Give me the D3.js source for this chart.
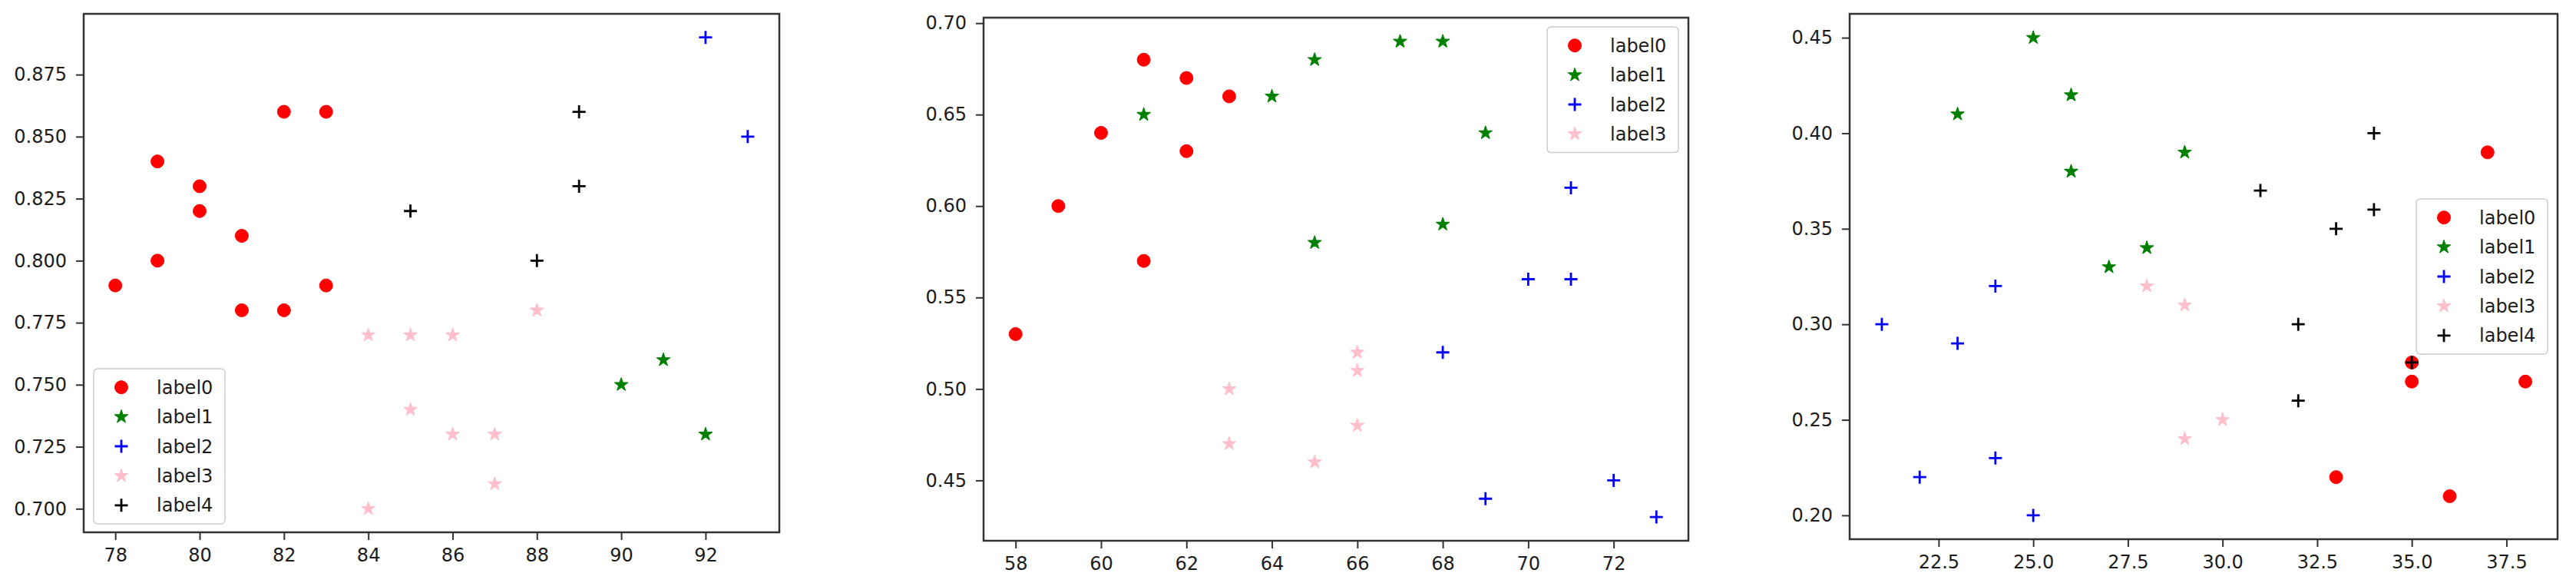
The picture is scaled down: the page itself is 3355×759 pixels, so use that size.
<!DOCTYPE html>
<html><head><meta charset="utf-8">
<script src="https://cdn.jsdelivr.net/npm/d3@7"></script>
<style>html,body{margin:0;padding:0;background:#fff;} svg{display:block;}</style>
</head><body>
<svg id="chart" width="3355" height="759"></svg>
<script>
// ---------- DATA ----------
const seriesNames = ["label0", "label1", "label2", "label3", "label4"];
const seriesColors = ["red", "green", "blue", "pink", "black"];
const seriesMarkers = ["circle", "star", "plus", "star", "plus"];

// Panel 1
const p1_label0_x = [78, 79, 79, 80, 80, 81, 81, 82, 82, 83, 83];
const p1_label0_y = [0.79, 0.80, 0.84, 0.83, 0.82, 0.81, 0.78, 0.86, 0.78, 0.86, 0.79];
const p1_label1_x = [90, 91, 92];
const p1_label1_y = [0.75, 0.76, 0.73];
const p1_label2_x = [92, 93];
const p1_label2_y = [0.89, 0.85];
const p1_label3_x = [84, 85, 86, 88, 85, 86, 87, 87, 84];
const p1_label3_y = [0.77, 0.77, 0.77, 0.78, 0.74, 0.73, 0.73, 0.71, 0.70];
const p1_label4_x = [85, 88, 89, 89];
const p1_label4_y = [0.82, 0.80, 0.86, 0.83];
const p1_xTicks = [78, 80, 82, 84, 86, 88, 90, 92];
const p1_yTicks = [0.700, 0.725, 0.750, 0.775, 0.800, 0.825, 0.850, 0.875];

// Panel 2
const p2_label0_x = [58, 59, 60, 61, 61, 62, 62, 63];
const p2_label0_y = [0.53, 0.60, 0.64, 0.68, 0.57, 0.67, 0.63, 0.66];
const p2_label1_x = [61, 64, 65, 65, 67, 68, 68, 69];
const p2_label1_y = [0.65, 0.66, 0.68, 0.58, 0.69, 0.69, 0.59, 0.64];
const p2_label2_x = [68, 69, 70, 71, 71, 72, 73];
const p2_label2_y = [0.52, 0.44, 0.56, 0.61, 0.56, 0.45, 0.43];
const p2_label3_x = [63, 63, 65, 66, 66, 66];
const p2_label3_y = [0.50, 0.47, 0.46, 0.52, 0.51, 0.48];
const p2_xTicks = [58, 60, 62, 64, 66, 68, 70, 72];
const p2_yTicks = [0.45, 0.50, 0.55, 0.60, 0.65, 0.70];

// Panel 3
const p3_label0_x = [33, 35, 35, 36, 37, 38];
const p3_label0_y = [0.22, 0.28, 0.27, 0.21, 0.39, 0.27];
const p3_label1_x = [23, 25, 26, 26, 27, 28, 29];
const p3_label1_y = [0.41, 0.45, 0.42, 0.38, 0.33, 0.34, 0.39];
const p3_label2_x = [21, 22, 23, 24, 24, 25];
const p3_label2_y = [0.30, 0.22, 0.29, 0.32, 0.23, 0.20];
const p3_label3_x = [28, 29, 29, 30];
const p3_label3_y = [0.32, 0.31, 0.24, 0.25];
const p3_label4_x = [31, 32, 32, 33, 34, 34, 35];
const p3_label4_y = [0.37, 0.30, 0.26, 0.35, 0.40, 0.36, 0.28];
const p3_xTicks = [22.5, 25.0, 27.5, 30.0, 32.5, 35.0, 37.5];
const p3_yTicks = [0.20, 0.25, 0.30, 0.35, 0.40, 0.45];

// ---------- BUILD ----------
function mk(xs, ys) { return xs.map((x, i) => ({x: x, y: ys[i]})); }

const panels = [
  { series: [mk(p1_label0_x, p1_label0_y), mk(p1_label1_x, p1_label1_y), mk(p1_label2_x, p1_label2_y), mk(p1_label3_x, p1_label3_y), mk(p1_label4_x, p1_label4_y)],
    xTicks: p1_xTicks, yTicks: p1_yTicks, xFmt: d3.format("d"), yFmt: d3.format(".3f"),
    box: {left: 109, right: 1015, top: 18, bottom: 693}, legendLoc: "lower left" },
  { series: [mk(p2_label0_x, p2_label0_y), mk(p2_label1_x, p2_label1_y), mk(p2_label2_x, p2_label2_y), mk(p2_label3_x, p2_label3_y)],
    xTicks: p2_xTicks, yTicks: p2_yTicks, xFmt: d3.format("d"), yFmt: d3.format(".2f"),
    box: {left: 1281, right: 2199, top: 23, bottom: 704}, legendLoc: "upper right" },
  { series: [mk(p3_label0_x, p3_label0_y), mk(p3_label1_x, p3_label1_y), mk(p3_label2_x, p3_label2_y), mk(p3_label3_x, p3_label3_y), mk(p3_label4_x, p3_label4_y)],
    xTicks: p3_xTicks, yTicks: p3_yTicks, xFmt: d3.format(".1f"), yFmt: d3.format(".2f"),
    box: {left: 2409, right: 3331, top: 18, bottom: 702}, legendLoc: "center right" }
];

const FONT = "'DejaVu Sans', sans-serif";
const FS = 24;
const R = 8.5;
const TEXT = "#1c1c1c";
const svg = d3.select("#chart");

function starPath(r) {
  const inner = r * 0.381966;
  const pts = [];
  for (let i = 0; i < 10; i++) {
    const rad = i % 2 === 0 ? r : inner;
    const a = -Math.PI / 2 + i * Math.PI / 5;
    pts.push([rad * Math.cos(a), rad * Math.sin(a)]);
  }
  return "M" + pts.map(p => p[0].toFixed(2) + "," + p[1].toFixed(2)).join("L") + "Z";
}
function drawMarker(sel, type, color) {
  if (type === "circle") {
    sel.append("circle").attr("r", R).attr("fill", color).attr("stroke", color).attr("stroke-width", 1);
  } else if (type === "star") {
    sel.append("path").attr("d", starPath(R + 0.5)).attr("fill", color).attr("stroke", color).attr("stroke-width", 1.2).attr("stroke-linejoin", "round");
  } else {
    sel.append("path").attr("d", `M${-R},0H${R}M0,${-R}V${R}`).attr("fill", "none").attr("stroke", color).attr("stroke-width", 2.8);
  }
}

function padDomain(vals) {
  const [a, b] = d3.extent(vals);
  const m = (b - a) * 0.05;
  return [a - m, b + m];
}

panels.forEach(p => {
  const all = p.series.flat();
  const x = d3.scaleLinear().domain(padDomain(all.map(d => d.x))).range([p.box.left, p.box.right]);
  const y = d3.scaleLinear().domain(padDomain(all.map(d => d.y))).range([p.box.bottom, p.box.top]);
  const g = svg.append("g");

  // points
  p.series.forEach((s, si) => {
    g.append("g").selectAll("g").data(s).enter().append("g")
      .attr("transform", d => `translate(${x(d.x)},${y(d.y)})`)
      .each(function() { drawMarker(d3.select(this), seriesMarkers[si], seriesColors[si]); });
  });

  // axes
  const xa = g.append("g").attr("transform", `translate(0,${p.box.bottom})`)
    .call(d3.axisBottom(x).tickValues(p.xTicks).tickFormat(p.xFmt).tickSize(10).tickPadding(11));
  const ya = g.append("g").attr("transform", `translate(${p.box.left},0)`)
    .call(d3.axisLeft(y).tickValues(p.yTicks).tickFormat(p.yFmt).tickSize(10).tickPadding(12));
  [xa, ya].forEach(a => {
    a.select(".domain").remove();
    a.selectAll(".tick line").attr("stroke", "#333").attr("stroke-width", 2);
    a.selectAll(".tick text").attr("fill", TEXT).style("font-family", FONT).style("font-size", FS + "px");
  });

  // spines
  g.append("rect").attr("x", p.box.left).attr("y", p.box.top)
    .attr("width", p.box.right - p.box.left).attr("height", p.box.bottom - p.box.top)
    .attr("fill", "none").attr("stroke", "#333").attr("stroke-width", 2.5);

  // legend
  const n = p.series.length;
  const rowH = 38.4, lw = 171, lh = n * rowH + 10, pad = 12;
  let lx, ly;
  if (p.legendLoc === "lower left") { lx = p.box.left + 13; ly = p.box.bottom - 11 - lh; }
  else if (p.legendLoc === "upper right") { lx = p.box.right - 13 - lw; ly = p.box.top + pad; }
  else { lx = p.box.right - 13 - lw; ly = (p.box.top + p.box.bottom) / 2 - lh / 2; }
  const lg = g.append("g").attr("transform", `translate(${lx},${ly})`);
  lg.append("rect").attr("width", lw).attr("height", lh).attr("rx", 5)
    .attr("fill", "white").attr("fill-opacity", 0.8).attr("stroke", "#cccccc").attr("stroke-width", 1.5);
  for (let i = 0; i < n; i++) {
    const cy = 5 + rowH * (i + 0.5);
    const mg = lg.append("g").attr("transform", `translate(36,${cy})`);
    drawMarker(mg, seriesMarkers[i], seriesColors[i]);
    lg.append("text").attr("x", 82).attr("y", cy).attr("dy", "0.36em")
      .attr("fill", TEXT).style("font-family", FONT).style("font-size", FS + "px")
      .text(seriesNames[i]);
  }
});
</script>
</body></html>
